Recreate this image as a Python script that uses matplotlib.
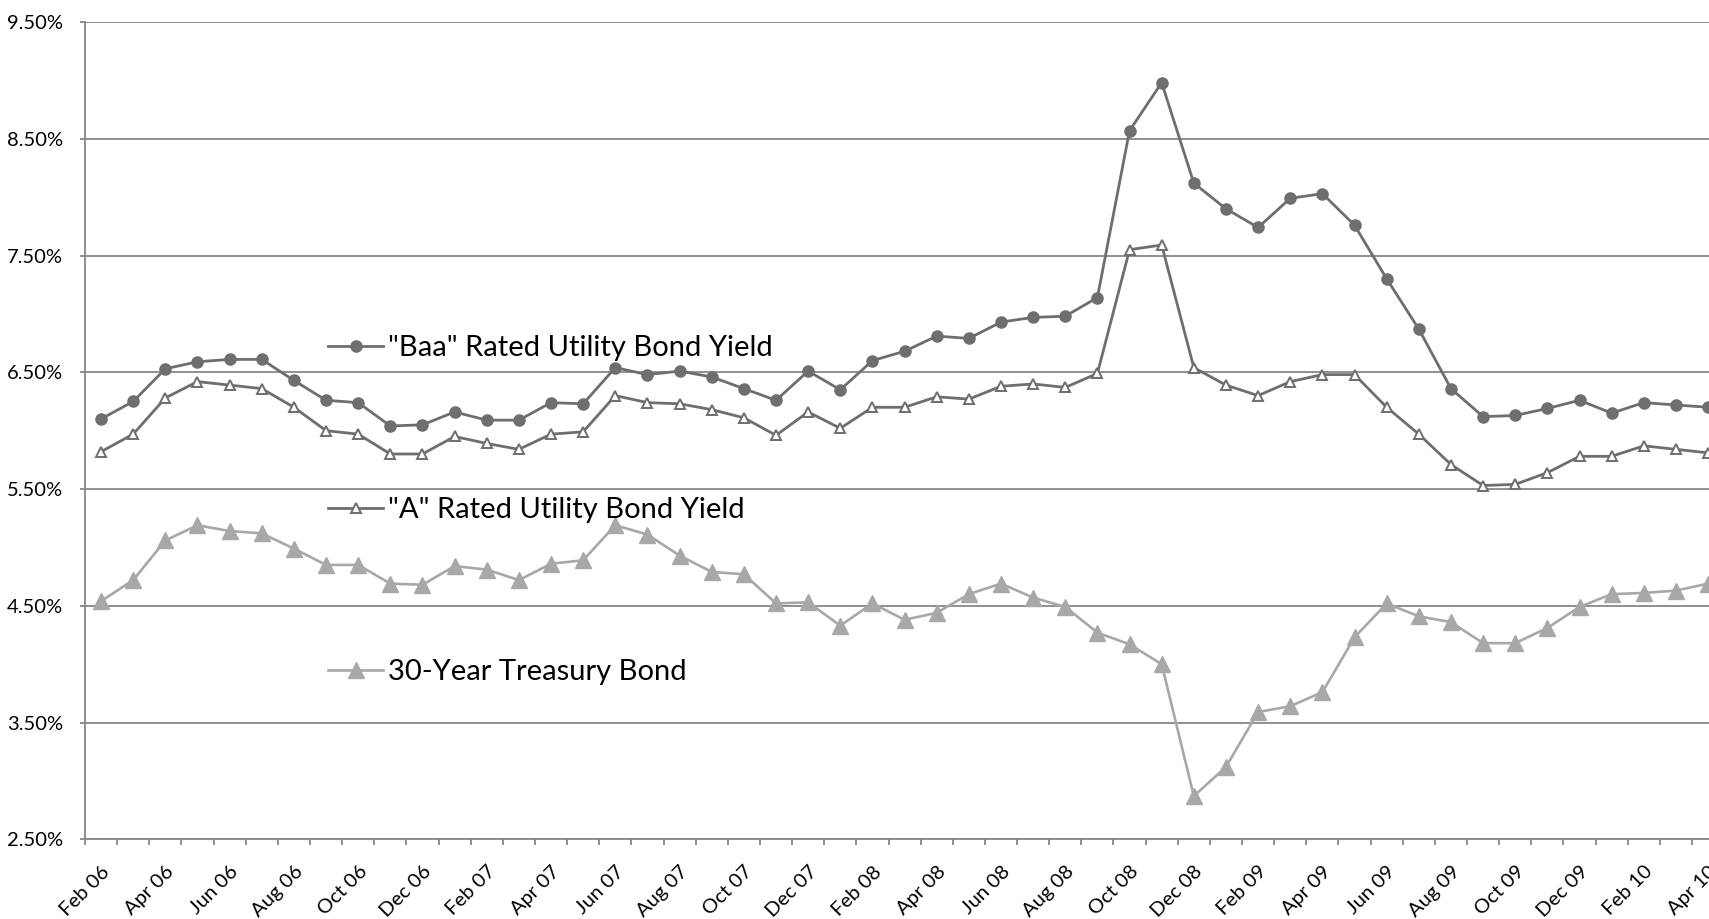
import matplotlib.pyplot as plt
import numpy as np
import pandas as pd

plt.rcParams['font.family'] = ['Lato', 'DejaVu Sans']

# monthly yields, Feb 2006 - Apr 2010 (percent)
baa_yield = [6.10, 6.25, 6.53, 6.59, 6.61, 6.61, 6.43, 6.26, 6.24, 6.04, 6.05,
             6.16, 6.09, 6.09, 6.24, 6.23, 6.54, 6.48, 6.51, 6.46, 6.36, 6.26, 6.51,
             6.35, 6.60, 6.68, 6.81, 6.79, 6.93, 6.97, 6.98, 7.14, 8.57, 8.98, 8.12,
             7.90, 7.74, 7.99, 8.03, 7.76, 7.30, 6.87, 6.36, 6.12, 6.13, 6.19, 6.26,
             6.15, 6.24, 6.22, 6.20]
a_yield = [5.82, 5.97, 6.28, 6.42, 6.39, 6.36, 6.20, 6.00, 5.97, 5.80, 5.80,
           5.95, 5.89, 5.84, 5.97, 5.99, 6.30, 6.24, 6.23, 6.18, 6.11, 5.96, 6.16,
           6.02, 6.20, 6.20, 6.29, 6.27, 6.38, 6.40, 6.37, 6.49, 7.55, 7.59, 6.54,
           6.39, 6.30, 6.42, 6.48, 6.48, 6.20, 5.97, 5.71, 5.53, 5.54, 5.64, 5.78,
           5.78, 5.87, 5.84, 5.81]
treasury_yield = [4.54, 4.72, 5.06, 5.19, 5.14, 5.12, 4.99, 4.85, 4.85, 4.69, 4.68,
                  4.84, 4.81, 4.72, 4.86, 4.89, 5.19, 5.11, 4.93, 4.79, 4.77, 4.52, 4.53,
                  4.33, 4.52, 4.38, 4.44, 4.60, 4.69, 4.57, 4.49, 4.27, 4.17, 4.00, 2.87,
                  3.12, 3.59, 3.64, 3.76, 4.23, 4.52, 4.41, 4.36, 4.18, 4.18, 4.31, 4.49,
                  4.60, 4.61, 4.63, 4.69]

months = pd.date_range('2006-02-01', periods=len(baa_yield), freq='MS').strftime('%b %y')
x = np.arange(len(months))

dark = '#6e6e6e'
light = '#a8a8a8'
grid_col = '#878787'

W, H = 1709, 919
fig = plt.figure(figsize=(W / 100, H / 100), dpi=100)
step = 32.14
ax = fig.add_axes([85 / W, 1 - 839.3 / H, len(months) * step / W, (839.3 - 22) / H])

ax.plot(x, baa_yield, color=dark, lw=2.0, marker='o', ms=8,
        label='"Baa" Rated Utility Bond Yield', zorder=4)
ax.plot(x, a_yield, color=dark, lw=2.0, marker='^', ms=6.5, mfc='white', mec=dark,
        mew=1.4, label='"A" Rated Utility Bond Yield', zorder=4)
ax.plot(x, treasury_yield, color=light, lw=1.9, marker='^', ms=11.5,
        label='30-Year Treasury Bond', zorder=3)

ax.set_xlim(-0.5, len(months) - 0.5)
ax.set_ylim(2.5, 9.5)
yt = np.arange(2.5, 9.51, 1.0)
ax.set_yticks(yt)
ax.set_yticklabels(['%.2f%%' % v for v in yt], fontsize=14.5)
ax.yaxis.grid(True, color=grid_col, lw=1.3)
ax.set_axisbelow(True)

ax.set_xticks(x[::2])
ax.set_xticklabels(months[::2], rotation=45, ha='right', va='top',
                   rotation_mode='anchor', fontsize=14.5)
ax.set_xticks(np.arange(-0.5, len(months), 1), minor=True)
ax.tick_params(axis='x', which='major', length=0, pad=17)
ax.tick_params(axis='x', which='minor', length=4, width=1.3, color=grid_col, direction='out')
ax.tick_params(axis='y', length=3.6, width=1.3, color=grid_col, pad=12)

for side in ['top', 'right']:
    ax.spines[side].set_visible(False)
for side in ['left', 'bottom']:
    ax.spines[side].set_color(grid_col)
    ax.spines[side].set_linewidth(1.3)

ax.legend(loc='upper left', bbox_to_anchor=(328 / W, 1 - 335 / H),
          bbox_transform=fig.transFigure, frameon=False, fontsize=21,
          handlelength=1.9, handletextpad=0.15, labelspacing=4.67, borderpad=0,
          borderaxespad=0)

fig.savefig('out.png', dpi=100)
